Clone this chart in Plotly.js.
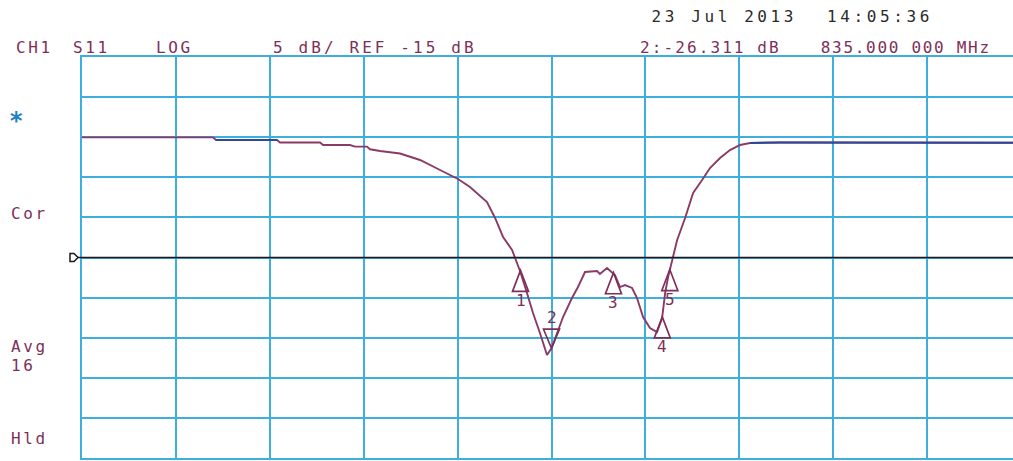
<!DOCTYPE html>
<html><head><meta charset="utf-8">
<script src="https://cdn.plot.ly/plotly-3.0.1.min.js"></script>
<style>
html,body{margin:0;padding:0;background:#fff;overflow:hidden}
#chart{width:1013px;height:461px}
.annotation-text{letter-spacing:2.6px}
.annotation[data-index="0"] .annotation-text,.annotation[data-index="1"] .annotation-text{letter-spacing:3.6px}
.annotation[data-index="5"] .annotation-text{letter-spacing:3.1px}
.annotation[data-index="6"] .annotation-text{letter-spacing:2.1px}
.annotation[data-index="7"] .annotation-text{letter-spacing:1.7px}
</style></head><body><div id="chart"></div>
<script>
// Trace: S11 (dB) vs frequency (MHz)
const freqMHz = [785.0, 798.95, 799.27, 805.77, 806.09, 810.35, 810.67, 813.54, 814.07, 815.35,
  815.67, 816.74, 818.87, 821.0, 823.13, 825.04, 826.32, 828.13, 828.99, 829.84,
  830.80, 831.43, 831.65, 832.39, 833.03, 833.77, 834.52, 835.0, 835.59, 836.23,
  837.18, 837.82, 838.57, 839.85, 840.16, 840.91, 841.76, 842.29, 842.83, 843.58,
  844.11, 844.75, 845.49, 846.24, 846.78, 847.10, 847.42, 847.84, 848.38, 849.23,
  850.08, 851.04, 851.88, 852.95, 854.01, 855.08, 856.14, 859.33, 884.15];
const s11dB = [-0.02, -0.02, -0.35, -0.35, -0.66, -0.66, -0.97, -0.97, -1.18, -1.18,
  -1.51, -1.72, -2.03, -2.84, -4.09, -5.21, -6.21, -8.08, -10.07, -12.44,
  -14.06, -16.06, -16.68, -19.43, -21.92, -24.41, -27.16, -26.311, -24.41, -22.42,
  -20.05, -18.68, -16.81, -16.68, -17.06, -16.31, -17.18, -18.68, -18.43, -18.80,
  -20.05, -22.42, -23.79, -24.29, -22.54, -19.43, -17.43, -15.31, -12.82, -10.07,
  -6.96, -5.34, -3.84, -2.59, -1.60, -0.97, -0.72, -0.66, -0.69];

// Markers
const markerNum = ['1', '2', '3', '4', '5'];
const markerFreq = [831.7, 835.0, 841.6, 846.8, 847.6];
const markerDb = [-16.6, -26.311, -16.9, -22.4, -16.5];
const activeMarker = '2';

// Text
const dateLabels = ['23 Jul 2013', '14:05:36'];
const headerLabels = ['CH1', 'S11', 'LOG', '5 dB/ REF -15 dB', '2:-26.311 dB', '835.000 000 MHz'];
const statusLabels = ['*', 'Cor', 'Avg', '16', 'Hld'];

const refLevel = -15;
const startMHz = 785, mhzPerDiv = 10, dbPerDiv = 5;

// ---------- layout helpers ----------
const L = 82, T = 57, B = 458, W = 1013, H = 461;
const plotW = W - L, plotH = B - T;
const px2x = p => (p - L) / plotW;
const py2y = p => (B - p) / plotH;

const maroon = '#7e2f58', traceCol = '#8a3a66', navy = '#2c4a9c', grid = '#3eaedc';
const mono = 'DejaVu Sans Mono, monospace';

const blueMask = f => (f >= 799.27 && f <= 805.77) || f >= 856.14;

const traces = [
  {x: freqMHz, y: s11dB, mode: 'lines', line: {color: traceCol, width: 1.9}, hoverinfo: 'skip'},
  {x: freqMHz, y: s11dB.map((v, i) => blueMask(freqMHz[i]) ? v : null), mode: 'lines',
   line: {color: navy, width: 2}, connectgaps: false, hoverinfo: 'skip'}
];

const annotations = [];
function txt(t, px, py, color, size, weight) {
  annotations.push({text: t, xref: 'paper', yref: 'paper', x: px2x(px), y: py2y(py),
    xanchor: 'left', yanchor: 'middle', showarrow: false,
    font: {family: mono, size: size || 16, color: color, weight: weight || 'normal'}});
}
const dateX = [655, 829];
dateLabels.forEach((t, i) => txt(t, dateX[i], 16, '#2a2a2a'));
const headX = [14, 71, 154, 275, 635, 812];
headerLabels.forEach((t, i) => txt(t, headX[i], 47, maroon));
const statPos = [[7, 121], [9, 213], [9, 346], [9, 365], [9, 438]];
statusLabels.forEach((t, i) => txt(t, statPos[i][0], statPos[i][1], i === 0 ? '#1f7fc4' : maroon,
  i === 0 ? 24 : 16, i === 0 ? 'bold' : 'normal'));

const shapes = [
  {type: 'line', xref: 'paper', yref: 'y', x0: px2x(77), x1: 1, y0: refLevel, y1: refLevel,
   line: {color: '#1a1a1a', width: 1.6}},
  {type: 'path', xref: 'paper', yref: 'y', xsizemode: 'pixel', ysizemode: 'pixel',
   xanchor: 0, yanchor: refLevel, path: 'M-12,-4L-8,-4L-4,0L-8,4L-12,4Z',
   line: {color: '#1a1a1a', width: 1.5}, fillcolor: 'rgba(0,0,0,0)'}
];

markerNum.forEach((n, i) => {
  const inv = n === activeMarker;
  shapes.push({type: 'path', xref: 'x', yref: 'y', xsizemode: 'pixel', ysizemode: 'pixel',
    xanchor: markerFreq[i], yanchor: markerDb[i],
    path: inv ? 'M0,0L-8,19L8,19Z' : 'M0,0L-8,-21L8,-21Z',
    line: {color: maroon, width: 1.7}, fillcolor: 'rgba(0,0,0,0)'});
  annotations.push({text: n, xref: 'x', yref: 'y', x: markerFreq[i], y: markerDb[i],
    xanchor: 'center', yanchor: 'middle', showarrow: false, yshift: inv ? 31 : -30, xshift: 1,
    font: {family: mono, size: 16, color: maroon}});
});

const layout = {
  width: W, height: H,
  margin: {l: L, r: 0, t: T, b: H - B, pad: 0},
  paper_bgcolor: '#ffffff', plot_bgcolor: '#ffffff',
  showlegend: false,
  xaxis: {range: [startMHz, startMHz + plotW / (93.9 / mhzPerDiv)], tick0: startMHz, dtick: mhzPerDiv,
    showgrid: true, gridcolor: grid, gridwidth: 2, zeroline: false,
    showline: true, linecolor: grid, linewidth: 2, mirror: true,
    showticklabels: false, ticks: '', fixedrange: true},
  yaxis: {range: [refLevel - 5 * dbPerDiv, refLevel + 5 * dbPerDiv], tick0: 0, dtick: dbPerDiv,
    showgrid: true, gridcolor: grid, gridwidth: 2, zeroline: false,
    showline: true, linecolor: grid, linewidth: 2, mirror: false,
    showticklabels: false, ticks: '', fixedrange: true},
  annotations: annotations,
  shapes: shapes
};

Plotly.newPlot('chart', traces, layout, {staticPlot: true, displayModeBar: false});
</script></body></html>
